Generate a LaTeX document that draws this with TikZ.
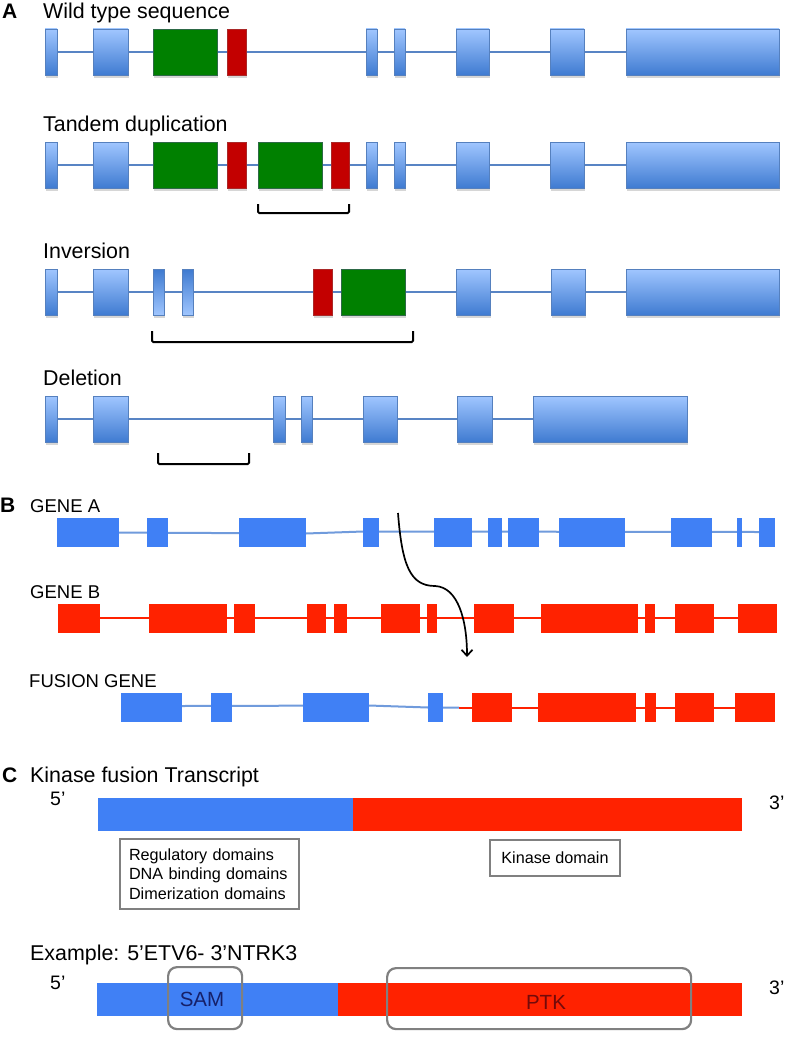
\documentclass[tikz,border=0pt]{standalone}
\usepackage{fontspec}
\setmainfont{Liberation Sans}
\usetikzlibrary{arrows.meta}
\definecolor{exlight}{RGB}{160,198,255}
\definecolor{exdark}{RGB}{62,122,208}
\definecolor{exedge}{RGB}{85,128,190}
\definecolor{intronA}{RGB}{88,132,196}
\definecolor{grn}{RGB}{0,128,0}
\definecolor{grnedge}{RGB}{45,105,70}
\definecolor{redA}{RGB}{195,0,0}
\definecolor{redAedge}{RGB}{170,40,40}
\definecolor{blueB}{RGB}{64,128,245}
\definecolor{lineB}{RGB}{112,155,220}
\definecolor{redB}{RGB}{255,34,0}
\definecolor{boxgray}{RGB}{128,128,128}
\definecolor{samtext}{RGB}{22,32,105}
\definecolor{ptktext}{RGB}{115,10,10}
% gradient exon: x1, x2, ytop
\newcommand\ExonGrad[3]{%
  \fill[black,opacity=.16] (#1+1.2,#3+2) rectangle (#2+1.2,#3+48.6);
  \draw[exedge,line width=.7pt,top color=exlight,bottom color=exdark] (#1,#3) rectangle (#2,#3+46.5);}
\newcommand\ExonGradInv[3]{%
  \fill[black,opacity=.16] (#1+1.2,#3+2) rectangle (#2+1.2,#3+48.6);
  \draw[exedge,line width=.7pt,top color=exdark,bottom color=exlight] (#1,#3) rectangle (#2,#3+46.5);}
% flat exon: fill, edge, x1, x2, ytop
\newcommand\ExonFlat[5]{%
  \fill[black,opacity=.16] (#3+1.2,#5+2) rectangle (#4+1.2,#5+48.6);
  \draw[#2,line width=.7pt,fill=#1] (#3,#5) rectangle (#4,#5+46.5);}
\begin{document}
\begin{tikzpicture}[x=1pt,y=-1pt,
  lbl/.style={inner sep=0pt,anchor=base west},
  ttl/.style={lbl,font=\fontsize{21.4}{25}\selectfont},
  glbl/.style={lbl,font=\fontsize{18.5}{21}\selectfont},
  plbl/.style={lbl,font=\fontsize{21}{24}\selectfont\bfseries},
  primelbl/.style={lbl,font=\fontsize{19.5}{22}\selectfont},
  intron/.style={intronA,line width=2pt},
  bracket/.style={black,line width=2pt,rounded corners=1.2pt},
  lineBlue/.style={lineB,line width=2pt},
  lineRed/.style={redB,line width=2pt},
  sqbox/.style={draw=boxgray,line width=2pt,fill=white,inner sep=0pt},
  rbox/.style={draw=boxgray,line width=2.2pt,rounded corners=9pt,inner sep=0pt},
]
\useasboundingbox (0,0) rectangle (784,1038);
\fill[white] (0,0) rectangle (784,1038);

% ================= A =================
\node[plbl] (labA) at (2,18.5) {A};
\node[ttl] (t1) at (43,18.5) {Wild type sequence};
\node[ttl] (t2) at (43,131.5) {Tandem duplication};
\node[ttl] (t3) at (43,258.5) {Inversion};
\node[ttl] (t4) at (43,385.5) {Deletion};

% row 1
\draw[intron] (51,52.3) -- (626,52.3);
\foreach \a/\b in {45/57,93/128,366/377,394/405,456/489,550/584,626/779} {\ExonGrad{\a}{\b}{29}}
\ExonFlat{grn}{grnedge}{153}{217}{29}
\ExonFlat{redA}{redAedge}{227}{246}{29}

% row 2
\draw[intron] (51,165.3) -- (626,165.3);
\foreach \a/\b in {45/57,93/128,366/377,394/405,456/489,550/584,626/779} {\ExonGrad{\a}{\b}{142}}
\ExonFlat{grn}{grnedge}{153}{217}{142}
\ExonFlat{redA}{redAedge}{227}{246}{142}
\ExonFlat{grn}{grnedge}{258}{322}{142}
\ExonFlat{redA}{redAedge}{331}{349}{142}
\draw[bracket] (258,204) -- (258,213) -- (349,213) -- (349,204);

% row 3
\draw[intron] (51,292) -- (626,292);
\foreach \a/\b in {45/57,93/128,456/490,551/585,626/779} {\ExonGrad{\a}{\b}{269}}
\foreach \a/\b in {153/164,182/193} {\ExonGradInv{\a}{\b}{269}}
\ExonFlat{redA}{redAedge}{313}{332}{269}
\ExonFlat{grn}{grnedge}{341}{405}{269}
\draw[bracket] (152,331) -- (152,342) -- (413,342) -- (413,331);

% row 4
\draw[intron] (51,419.3) -- (533,419.3);
\foreach \a/\b in {45/57,93/128,273/285,301/312,363/397,457/492,533/687} {\ExonGrad{\a}{\b}{396}}
\draw[bracket] (158,453) -- (158,464) -- (249,464) -- (249,453);

% ================= B =================
\node[plbl] (labB) at (0,512) {B};
\node[glbl] (gA) at (30,512) {GENE A};
\node[glbl] (gB) at (30,598) {GENE B};
\node[glbl] (gF) at (29,687) {FUSION GENE};

% gene A
\draw[lineBlue] (119,532.5) -- (306,533.5) -- (363,531.5) -- (759,532);
\foreach \a/\b in {57/119,147/168,239/306,363/379,434/472,488/502,508/539,559/625,671/712,737/742,759/775}
  {\fill[blueB] (\a,518) rectangle (\b,546.5);}

% gene B
\draw[lineRed] (100,618) -- (738,618);
\foreach \a/\b in {58/100,149/227,234/255,307/326,334/347,381/420,427/437,474/514,541/638,645/655,675/714,738/777}
  {\fill[redB] (\a,604) rectangle (\b,632.5);}

% fusion gene
\draw[lineBlue] (182,706) -- (369,705.5) -- (428,707.5) -- (459,707.5);
\draw[lineRed] (459,707.5) -- (735,707.5);
\foreach \a/\b in {121/182,211/232,303/369,428/443}
  {\fill[blueB] (\a,693) rectangle (\b,721.5);}
\foreach \a/\b in {472/512,538/636,645/656,675/714,735/775}
  {\fill[redB] (\a,693) rectangle (\b,721.5);}

% arrow
\coordinate (arrS) at (398,513);
\coordinate (arrE) at (467,657);
\draw[black,line width=1.7pt,-{Straight Barb[length=6pt,width=11pt,line width=1.7pt]}]
  (arrS) .. controls (402,565) and (410,586) .. (435,586)
         .. controls (458,587) and (467,620) .. (arrE);

% ================= C =================
\node[plbl] (labC) at (2,782) {C};
\node[ttl] (tC) at (30,782) {Kinase fusion Transcript};
\node[primelbl] (p5a) at (50,805) {5’};
\node[primelbl] (p3a) at (769,809) {3’};

\fill[blueB] (98,798) rectangle (353,831);
\fill[redB] (353,798) rectangle (742,831);

\node[sqbox,anchor=north west,text width=161pt,inner xsep=9pt,minimum height=70pt,
      align=left,font=\fontsize{16.2}{19.5}\selectfont] (regbox) at (119,838)
      {Regulatory domains\\DNA binding domains\\Dimerization domains};
\node[sqbox,anchor=north west,minimum width=130pt,minimum height=36pt,
      font=\fontsize{16.2}{19}\selectfont] (kinbox) at (489,839) {Kinase domain};

\node[ttl] (tEx) at (30,960) {Example: 5’ETV6- 3’NTRK3};
\node[primelbl] (p5b) at (50,989) {5’};
\node[primelbl] (p3b) at (769,994) {3’};

\fill[blueB] (97,983) rectangle (338,1016);
\fill[redB] (338,983) rectangle (742,1016);

\node[lbl,anchor=center,text=samtext,font=\fontsize{20.5}{24}\selectfont] (sam) at (202,999.5) {SAM};
\node[lbl,anchor=center,text=ptktext,font=\fontsize{20.5}{24}\selectfont] (ptk) at (546,1002.5) {PTK};
\node[rbox,anchor=north west,minimum width=74pt,minimum height=62pt] (sambox) at (167,966) {};
\node[rbox,anchor=north west,minimum width=304pt,minimum height=61pt] (ptkbox) at (386,967) {};
\end{tikzpicture}
\end{document}
